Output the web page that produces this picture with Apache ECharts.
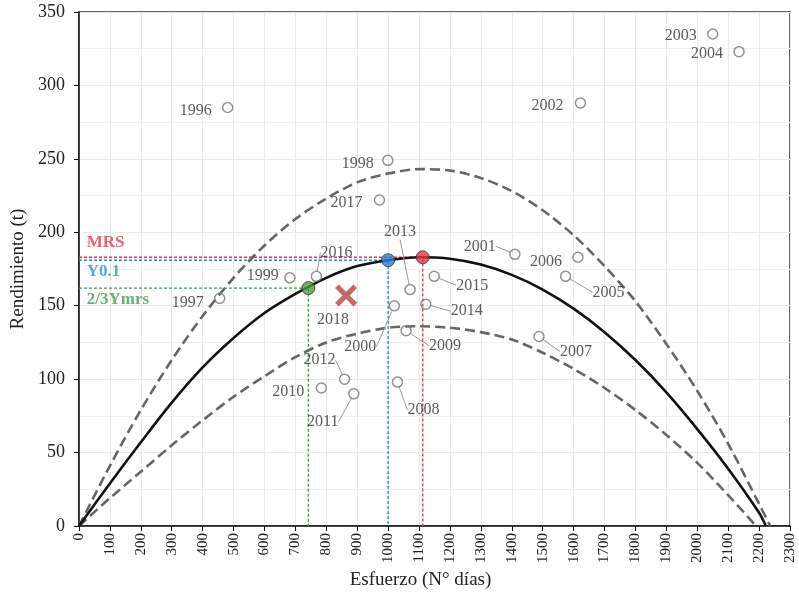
<!DOCTYPE html>
<html>
<head>
<meta charset="utf-8">
<script src="https://cdn.jsdelivr.net/npm/echarts@6/dist/echarts.min.js"></script>
<style>html,body{margin:0;padding:0;background:#fff}#c{width:799px;height:596px}</style>
</head>
<body>
<div id="c"></div>
<script>
// ---- data ----
const years  = ['1996','1997','1998','1999','2000','2001','2002','2003','2004','2005','2006','2007','2008','2009','2010','2011','2012','2013','2014','2015','2016','2017'];
const effort = [481, 455, 999, 682, 1020, 1410, 1622, 2050, 2135, 1574, 1614, 1488, 1030, 1058, 784, 889, 859, 1071, 1122, 1149, 768, 972];
const yieldT = [285, 155, 249, 169, 150, 185, 288, 335, 323, 170, 183, 129, 98, 133, 94, 90, 100, 161, 151, 170, 170, 222];

const year2018 = ['2018'];
const effort2018 = [864];
const yield2018 = [157];

const solidX = [0,100,200,300,400,500,600,700,800,900,1000,1100,1200,1300,1400,1500,1600,1700,1800,1900,2000,2100,2200,2222];
const solidY = [0,29,57,84,108,128,145,158,169,177,181,183,182,178,171,161,148,132,113,91,66,39,9,0];
const upperX = [0,100,200,300,400,500,600,700,800,900,1000,1100,1200,1300,1400,1500,1600,1700,1800,1900,2000,2100,2200,2236];
const upperY = [0,41,79,113,143,169,191,209,223,234,240,243,242,237,228,215,198,177,153,124,92,56,15,0];
const lowerX = [0,100,200,300,400,500,600,700,800,900,1000,1100,1200,1300,1400,1500,1600,1700,1800,1900,2000,2100,2190];
const lowerY = [0,19,37,55,72,88,102,115,125,131,135,136,135,132,127,118,107,94,79,62,43,21,0];

const refNames  = ['MRS', 'Y0.1', '2/3Ymrs'];
const refEffort = [1112, 1000, 742];
const refYield  = [183, 181, 162];

const xTicks = {min: 0, max: 2300, interval: 100};
const yTicks = {min: 0, max: 350, interval: 50};

// ---- label placement (offsets in px, relative to the point) ----
const labelPlace = {
  '1996':[-32,3,false], '1997':[-32,4,false], '1998':[-30,3,false], '1999':[-27,-2,false],
  '2000':[-34,41,true], '2001':[-35,-8,true], '2002':[-33,3,false], '2003':[-32,2,false],
  '2004':[-32,2,false], '2005':[43,16,true], '2006':[-32,5,false], '2007':[37,15,true],
  '2008':[26,28,true], '2009':[39,15,true], '2010':[-33,4,false], '2011':[-31,28,true],
  '2012':[-25,-19,true], '2013':[-10,-58,true], '2014':[41,7,true], '2015':[38,9,true],
  '2016':[20,-24,true], '2017':[-33,3,false], '2018':[-13,24,false]
};
const refColors = ['#e8364e', '#2a8fd6', '#3f9e4f'];
const refFill = ['#e8333f', '#2b7fd4', '#4c9a3e'];
const refTextY = [193, 173.5, 154];

const serif = 'Liberation Serif';
const pts = (xs, ys) => xs.map((x, i) => [x, ys[i]]);

const series = [];
series.push({type:'line', data: pts(upperX, upperY), smooth: 0.3, symbol:'none', z:3,
  lineStyle:{color:'#666', width:2.6, type:[10,5]}});
series.push({type:'line', data: pts(lowerX, lowerY), smooth: 0.3, symbol:'none', z:3,
  lineStyle:{color:'#666', width:2.6, type:[10,5]}});
series.push({type:'line', data: pts(solidX, solidY), smooth: 0.3, symbol:'none', z:4,
  lineStyle:{color:'#111', width:2.6}});

refNames.forEach((n, i) => {
  series.push({type:'line', symbol:'none', z:2,
    data: [[0, refYield[i]], [refEffort[i], refYield[i]], [refEffort[i], 0]],
    lineStyle:{color: refColors[i], width:1.4, type:[3,2]}});
  series.push({type:'scatter', symbolSize: 0, z:6, silent:true,
    data:[{value:[25, refTextY[i]], name:n}],
    label:{show:true, position:'right', distance:0, formatter:'{b}', color: refColors[i],
      fontFamily: serif, fontWeight:'bold', fontSize:17}});
});

series.push({type:'scatter', symbol:'circle', symbolSize:10, z:5,
  data: years.map((y, i) => ({value:[effort[i], yieldT[i]], name:y,
     labelLine:{show: labelPlace[y][2]}})),
  itemStyle:{color:'rgba(255,255,255,0)', borderColor:'#777', borderWidth:1.5},
  label:{show:true, position:'inside', formatter:'{b}', color:'#333', fontFamily:serif, fontSize:16},
  labelLine:{lineStyle:{color:'#9a9a9a', width:1}},
  labelLayout: function (p) { const o = labelPlace[years[p.dataIndex]]; return {dx:o[0], dy:o[1]}; }
});

series.push({type:'scatter', z:5,
  symbol:'path://M0,4 L4,0 L12,8 L20,0 L24,4 L16,12 L24,20 L20,24 L12,16 L4,24 L0,20 L8,12 Z',
  symbolSize:22,
  data: year2018.map((y, i) => ({value:[effort2018[i], yield2018[i]], name:y})),
  itemStyle:{color:'#b4453b'},
  label:{show:true, position:'inside', formatter:'{b}', color:'#333', fontFamily:serif, fontSize:16},
  labelLayout: function () { const o = labelPlace['2018']; return {dx:o[0], dy:o[1]}; }
});

series.push({type:'scatter', symbol:'circle', symbolSize:13, z:7,
  data: refNames.map((n, i) => ({value:[refEffort[i], refYield[i]], name:n,
      itemStyle:{color: refFill[i], borderColor:'#333', borderWidth:1}}))
});

const chart = echarts.init(document.getElementById('c'), null, {renderer:'canvas'});
chart.setOption({
  animation:false,
  backgroundColor:'#fff',
  grid:{left:79, right:9, top:12, bottom:70, show:true, borderColor:'#333', borderWidth:1.5, backgroundColor:'transparent'},
  xAxis:{type:'value', min:xTicks.min, max:xTicks.max, interval:xTicks.interval,
    name:'Esfuerzo (N° días)', nameLocation:'middle', nameGap:44,
    nameTextStyle:{fontFamily:serif, fontSize:19, color:'#222', padding:[0,28,0,0]},
    axisLine:{show:true, onZero:false, lineStyle:{color:'#111', width:1.5}},
    axisTick:{show:true, inside:false, length:5, lineStyle:{color:'#111'}},
    axisLabel:{rotate:90, margin:7, fontFamily:serif, fontSize:15, color:'#222',
      formatter: v => String(v)},
    splitLine:{show:true, lineStyle:{color:'#e9e9e9', width:1}}
  },
  yAxis:{type:'value', min:yTicks.min, max:yTicks.max, interval:yTicks.interval,
    name:'Rendimiento (t)', nameLocation:'middle', nameGap:50,
    nameTextStyle:{fontFamily:serif, fontSize:19, color:'#222'},
    axisLine:{show:true, onZero:false, lineStyle:{color:'#111', width:1.5}},
    axisTick:{show:true, inside:false, length:5, lineStyle:{color:'#111'}},
    axisLabel:{margin:14, fontFamily:serif, fontSize:18, color:'#222', formatter: v => String(v)},
    splitLine:{show:true, lineStyle:{color:'#e9e9e9', width:1}},
    minorTick:{show:false, splitNumber:2},
    minorSplitLine:{show:true, lineStyle:{color:'#f0f0f0', width:1}}
  },
  series: series
});
</script>
</body>
</html>
